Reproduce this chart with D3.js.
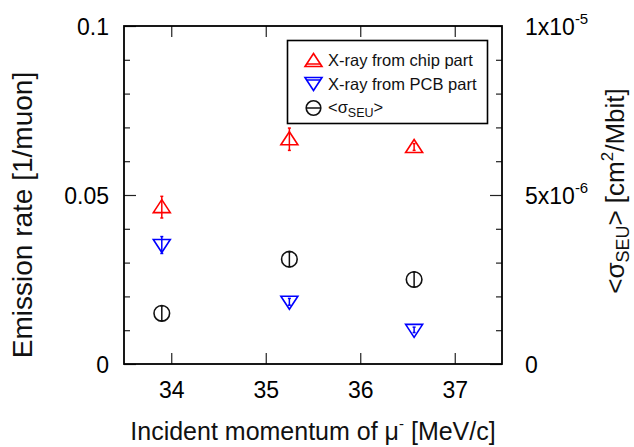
<!DOCTYPE html>
<html>
<head>
<meta charset="utf-8">
<script src="https://cdn.jsdelivr.net/npm/d3@7"></script>
<style>
  html, body { margin: 0; padding: 0; background: #fff; }
  svg { display: block; font-family: "Liberation Sans", Arial, Helvetica, sans-serif; }
</style>
</head>
<body>
<svg id="chart" width="634" height="447"></svg>
<script>
// ---- data ----
const momentum  = [33.9, 35.25, 36.57];          // MeV/c
const chipRate  = [0.0464, 0.0665, 0.0642];      // 1/muon
const chipErr   = [0.0032, 0.0033, 0.0010];
const pcbRate   = [0.0352, 0.0184, 0.0101];
const pcbErr    = [0.0025, 0.0010, 0.0008];
const sigmaSEU  = [1.50e-6, 3.10e-6, 2.50e-6];   // cm^2/Mbit
const sigmaErr  = [0.22e-6, 0.22e-6, 0.22e-6];

const xTicks   = [34, 35, 36, 37];
const yTicks   = [0, 0.05, 0.1];
const yLabels  = ["0", "0.05", "0.1"];
const yMinor   = [0.01, 0.02, 0.03, 0.04, 0.06, 0.07, 0.08, 0.09];
const y2Ticks  = [0, 5e-6, 1e-5];
const y2Mant   = ["0", "5x10", "1x10"];
const y2Exp    = ["", "-6", "-5"];
const y2Minor  = [1e-6, 2e-6, 3e-6, 4e-6, 6e-6, 7e-6, 8e-6, 9e-6];
const legendLabels = ["X-ray from chip part", "X-ray from PCB part", "σ"];

// ---- layout ----
const L = 124, R = 502, T = 26, B = 364;
const svg = d3.select("#chart");
const x  = d3.scaleLinear().domain([33.5, 37.5]).range([L, R]);
const y  = d3.scaleLinear().domain([0, 0.1]).range([B, T]);
const y2 = d3.scaleLinear().domain([0, 1e-5]).range([B, T]);

const tickFont = 23;

function styleAxis(g) {
  g.select(".domain").remove();
  g.selectAll(".tick line").attr("stroke", "#222").attr("stroke-width", 1.2);
  g.selectAll("text").attr("font-size", tickFont).attr("fill", "#000")
    .attr("font-family", "Liberation Sans, Arial, sans-serif");
}

// bottom axis
const gx = svg.append("g").attr("transform", `translate(0,${B})`)
  .call(d3.axisBottom(x).tickValues(xTicks).tickSizeInner(-11).tickSizeOuter(0).tickFormat(d3.format("d")));
styleAxis(gx);
gx.selectAll("text").attr("y", 34).attr("dy", null);

// top axis (ticks only)
const gxt = svg.append("g").attr("transform", `translate(0,${T})`)
  .call(d3.axisTop(x).tickValues(xTicks).tickSizeInner(-11).tickSizeOuter(0).tickFormat(""));
styleAxis(gxt);

// left axis
const gy = svg.append("g").attr("transform", `translate(${L},0)`)
  .call(d3.axisLeft(y).tickValues(yTicks).tickSizeInner(-12).tickSizeOuter(0)
    .tickFormat((d, i) => yLabels[i]).tickPadding(15));
styleAxis(gy);
gy.selectAll("text").attr("dy", "0.37em");
const gym = svg.append("g").attr("transform", `translate(${L},0)`)
  .call(d3.axisLeft(y).tickValues(yMinor).tickSizeInner(-6).tickSizeOuter(0).tickFormat(""));
styleAxis(gym);

// right axis
const gy2 = svg.append("g").attr("transform", `translate(${R},0)`)
  .call(d3.axisRight(y2).tickValues(y2Ticks).tickSizeInner(-12).tickSizeOuter(0)
    .tickFormat((d, i) => y2Mant[i]).tickPadding(23));
styleAxis(gy2);
gy2.selectAll("text").attr("dy", "0.39em").each(function(d, i) {
  if (y2Exp[i]) {
    d3.select(this).append("tspan").attr("font-size", 15).attr("dy", "-0.75em").text(y2Exp[i]);
  }
});
const gy2m = svg.append("g").attr("transform", `translate(${R},0)`)
  .call(d3.axisRight(y2).tickValues(y2Minor).tickSizeInner(-6).tickSizeOuter(0).tickFormat(""));
styleAxis(gy2m);

// frame
svg.append("rect").attr("x", L).attr("y", T).attr("width", R - L).attr("height", B - T)
  .attr("fill", "none").attr("stroke", "#000").attr("stroke-width", 1.8);

// axis titles
const xt = svg.append("text").attr("x", (L + R) / 2).attr("y", 439.5)
  .attr("text-anchor", "middle").attr("font-size", 25).attr("fill", "#111");
xt.append("tspan").text("Incident momentum of μ");
xt.append("tspan").attr("font-size", 15).attr("dy", -11).text("-");
xt.append("tspan").attr("dy", 11).text(" [MeV/c]");

svg.append("text").attr("transform", "translate(32,215) rotate(-90)")
  .attr("text-anchor", "middle").attr("font-size", 28).attr("fill", "#111")
  .text("Emission rate [1/muon]");

const yt2 = svg.append("text").attr("transform", "translate(624,191) rotate(-90)")
  .attr("text-anchor", "middle").attr("font-size", 26).attr("fill", "#111");
yt2.append("tspan").text("<σ");
yt2.append("tspan").attr("font-size", 18).attr("dy", 5).text("SEU");
yt2.append("tspan").attr("dy", -5).text("> [cm");
yt2.append("tspan").attr("font-size", 17).attr("dy", -11).text("2");
yt2.append("tspan").attr("dy", 11).text("/Mbit]");

// ---- markers ----
const triUp   = "M0,-7.5L8.5,5.5L-8.5,5.5Z";
const triDown = "M0,7.5L8.5,-5.5L-8.5,-5.5Z";

function errorBars(vals, errs, scale, color) {
  const g = svg.append("g").attr("stroke", color).attr("stroke-width", 1.5);
  momentum.forEach((m, i) => {
    const cx = x(m), y0 = scale(vals[i] - errs[i]), y1 = scale(vals[i] + errs[i]);
    g.append("line").attr("x1", cx).attr("x2", cx).attr("y1", y0).attr("y2", y1);
    g.append("line").attr("x1", cx - 1.5).attr("x2", cx + 1.5).attr("y1", y0).attr("y2", y0);
    g.append("line").attr("x1", cx - 1.5).attr("x2", cx + 1.5).attr("y1", y1).attr("y2", y1);
  });
}

errorBars(chipRate, chipErr, y, "#ff0000");
svg.append("g").selectAll("path").data(chipRate).join("path")
  .attr("d", triUp).attr("transform", (d, i) => `translate(${x(momentum[i])},${y(d)})`)
  .attr("fill", "none").attr("stroke", "#ff0000").attr("stroke-width", 1.6);

errorBars(pcbRate, pcbErr, y, "#0000ff");
svg.append("g").selectAll("path").data(pcbRate).join("path")
  .attr("d", triDown).attr("transform", (d, i) => `translate(${x(momentum[i])},${y(d)})`)
  .attr("fill", "none").attr("stroke", "#0000ff").attr("stroke-width", 1.6);

errorBars(sigmaSEU, sigmaErr, y2, "#111");
svg.append("g").selectAll("circle").data(sigmaSEU).join("circle")
  .attr("cx", (d, i) => x(momentum[i])).attr("cy", d => y2(d)).attr("r", 7.8)
  .attr("fill", "none").attr("stroke", "#111").attr("stroke-width", 1.6);

// ---- legend ----
const lg = svg.append("g");
lg.append("rect").attr("x", 287.5).attr("y", 40.5).attr("width", 200).attr("height", 83)
  .attr("fill", "#fff").attr("stroke", "#000").attr("stroke-width", 1.6);
const rowY = [60, 84, 108];
const mx = 313.5, tx = 328;
lg.append("path").attr("d", triUp).attr("transform", `translate(${mx},${rowY[0] + 1})`)
  .attr("fill", "none").attr("stroke", "#ff0000").attr("stroke-width", 1.6);
lg.append("line").attr("x1", mx - 7).attr("x2", mx + 7).attr("y1", rowY[0] + 4).attr("y2", rowY[0] + 4)
  .attr("stroke", "#ff0000").attr("stroke-width", 1.5);
lg.append("path").attr("d", triDown).attr("transform", `translate(${mx},${rowY[1] - 1})`)
  .attr("fill", "none").attr("stroke", "#0000ff").attr("stroke-width", 1.6);
lg.append("line").attr("x1", mx - 7).attr("x2", mx + 7).attr("y1", rowY[1] - 4).attr("y2", rowY[1] - 4)
  .attr("stroke", "#0000ff").attr("stroke-width", 1.5);
lg.append("circle").attr("cx", mx).attr("cy", rowY[2]).attr("r", 7.3)
  .attr("fill", "none").attr("stroke", "#111").attr("stroke-width", 1.6);
lg.append("line").attr("x1", mx - 7).attr("x2", mx + 7).attr("y1", rowY[2]).attr("y2", rowY[2])
  .attr("stroke", "#111").attr("stroke-width", 1.5);

lg.append("text").attr("x", tx).attr("y", rowY[0] + 6).attr("font-size", 16.5).attr("fill", "#111").text(legendLabels[0]);
lg.append("text").attr("x", tx).attr("y", rowY[1] + 6).attr("font-size", 16.5).attr("fill", "#111").text(legendLabels[1]);
const l3 = lg.append("text").attr("x", tx).attr("y", rowY[2] + 5).attr("font-size", 16.5).attr("fill", "#111");
l3.append("tspan").text("<" + legendLabels[2]);
l3.append("tspan").attr("font-size", 12.5).attr("dy", 4).text("SEU");
l3.append("tspan").attr("dy", -4).text(">");
</script>
</body>
</html>
